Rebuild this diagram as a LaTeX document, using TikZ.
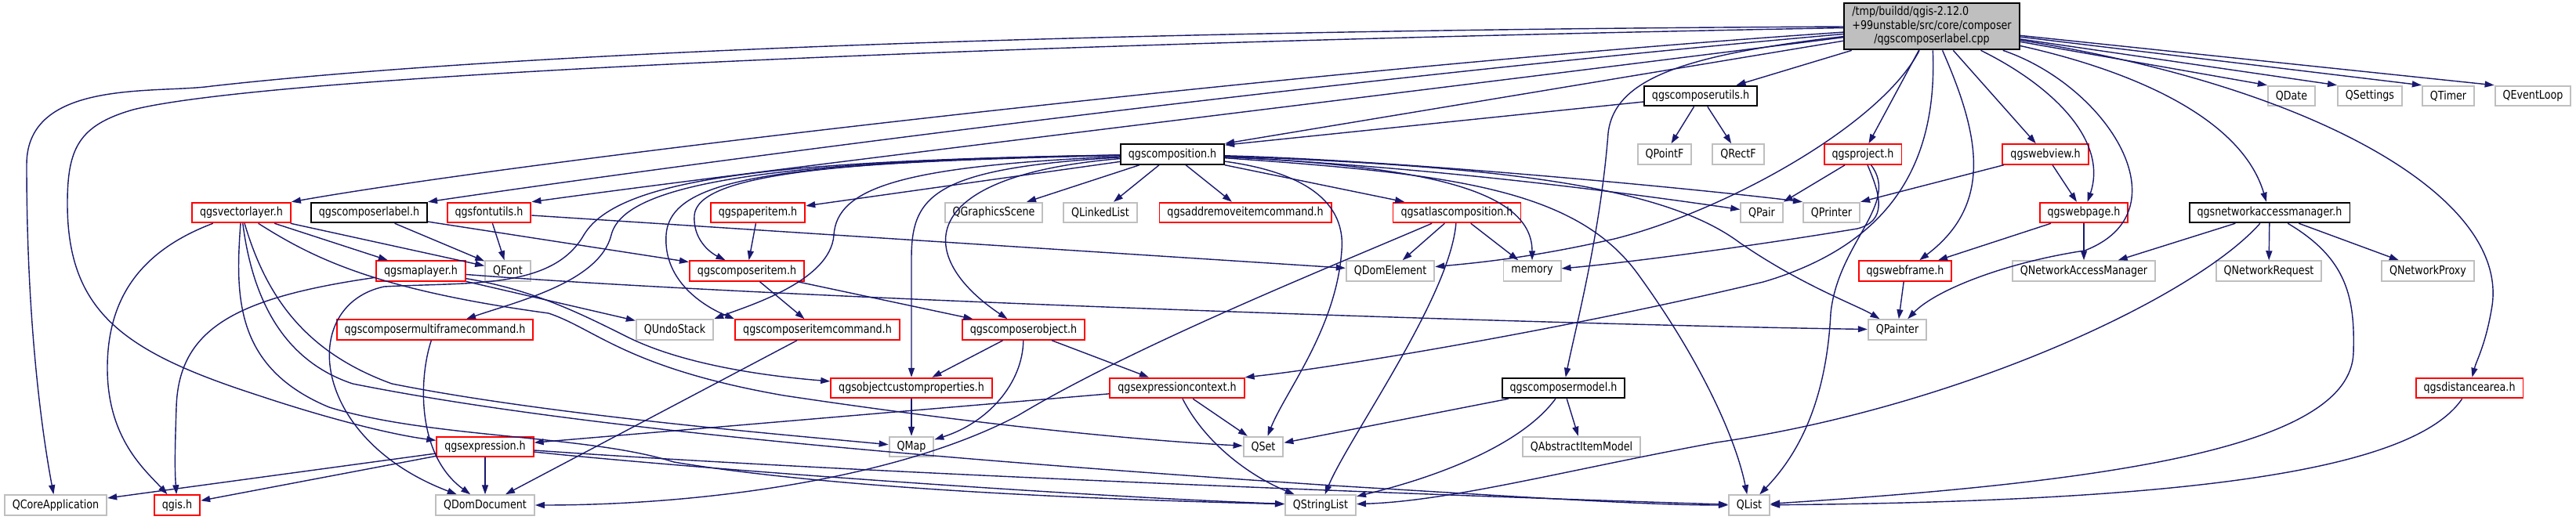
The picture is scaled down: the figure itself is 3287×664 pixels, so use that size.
\documentclass[tikz,border=0pt]{standalone}
\usepackage{fontspec}
\setmainfont{DejaVu Sans}[FakeStretch=0.84]
\usetikzlibrary{arrows.meta}
\definecolor{edgeblue}{RGB}{25,25,112}
\definecolor{boxgrey}{RGB}{191,191,191}

\begin{document}
\begin{tikzpicture}[x=0.01cm,y=-0.01cm,
  filebox/.style={rectangle,fill=white,line width=0.55pt,inner xsep=0.1cm,inner ysep=0pt,minimum height=0.255cm,font=\fontsize{4.3}{5}\selectfont},
  hdrbox/.style={filebox,draw=black},
  redbox/.style={filebox,draw=red},
  sysbox/.style={filebox,draw=boxgrey},
  dep/.style={draw=edgeblue,line width=0.4pt,-{Triangle[length=0.12cm,width=0.08cm]}}]
\useasboundingbox (0,0) rectangle (3287,664);

% source file
\node[hdrbox,fill=boxgrey,minimum height=0.55cm,inner ysep=1pt] (main) at (2465,33.5) {\begin{tabular}{@{}l@{}}/tmp/buildd/qgis-2.12.0\\+99unstable/src/core/composer\\\multicolumn{1}{@{}c@{}}{/qgscomposerlabel.cpp}\end{tabular}};

% row 1
\node[hdrbox] (cutils) at (2170,122.5) {qgscomposerutils.h};
\node[sysbox] (qdate) at (2924,122.5) {QDate};
\node[sysbox] (qsettings) at (3024,122.5) {QSettings};
\node[sysbox] (qtimer) at (3124,122.5) {QTimer};
\node[sysbox] (qeventloop) at (3232,122.5) {QEventLoop};
% row 2
\node[hdrbox] (composition) at (1496,197) {qgscomposition.h};
\node[sysbox] (qpointf) at (2124,197) {QPointF};
\node[sysbox] (qrectf) at (2218,197) {QRectF};
\node[redbox] (project) at (2377,197) {qgsproject.h};
\node[redbox] (webview) at (2610,197) {qgswebview.h};
% row 3
\node[redbox] (vlayer) at (308,271.5) {qgsvectorlayer.h};
\node[hdrbox] (clabel) at (471,271.5) {qgscomposerlabel.h};
\node[redbox] (fontutils) at (624,271.5) {qgsfontutils.h};
\node[redbox] (paperitem) at (967,271.5) {qgspaperitem.h};
\node[sysbox] (qgscene) at (1268,271.5) {QGraphicsScene};
\node[sysbox] (qlinked) at (1404,271.5) {QLinkedList};
\node[redbox] (addremove) at (1589,271.5) {qgsaddremoveitemcommand.h};
\node[redbox] (atlas) at (1859,271.5) {qgsatlascomposition.h};
\node[sysbox] (qpair) at (2248,271.5) {QPair};
\node[sysbox] (qprinter) at (2337,271.5) {QPrinter};
\node[redbox] (webpage) at (2659,271.5) {qgswebpage.h};
\node[hdrbox] (netmgr) at (2896,271.5) {qgsnetworkaccessmanager.h};
% row 4
\node[redbox] (maplayer) at (537,346) {qgsmaplayer.h};
\node[sysbox] (qfont) at (648,346) {QFont};
\node[redbox] (citem) at (953,346) {qgscomposeritem.h};
\node[sysbox] (qdomelem) at (1774,346) {QDomElement};
\node[sysbox] (memory) at (1955,346) {memory};
\node[redbox] (webframe) at (2431,346) {qgswebframe.h};
\node[sysbox] (qnam) at (2659,346) {QNetworkAccessManager};
\node[sysbox] (qnreq) at (2895,346) {QNetworkRequest};
\node[sysbox] (qnproxy) at (3098,346) {QNetworkProxy};
% row 5
\node[redbox] (mfcmd) at (555,421) {qgscomposermultiframecommand.h};
\node[sysbox] (qundo) at (861,421) {QUndoStack};
\node[redbox] (citemcmd) at (1043,421) {qgscomposeritemcommand.h};
\node[redbox] (cobject) at (1306,421) {qgscomposerobject.h};
\node[sysbox] (qpainter) at (2421,421) {QPainter};
% row 6
\node[redbox] (custprops) at (1163,495.5) {qgsobjectcustomproperties.h};
\node[redbox] (exprctx) at (1502,495.5) {qgsexpressioncontext.h};
\node[hdrbox] (cmodel) at (1995,495.5) {qgscomposermodel.h};
\node[redbox] (distarea) at (3151,495.5) {qgsdistancearea.h};
% row 7
\node[redbox] (expr) at (619,570.5) {qgsexpression.h};
\node[sysbox] (qmap) at (1163,570.5) {QMap};
\node[sysbox] (qset) at (1612,570.5) {QSet};
\node[sysbox] (qaim) at (2018,570.5) {QAbstractItemModel};
% row 8
\node[sysbox] (qcoreapp) at (71,645) {QCoreApplication};
\node[redbox] (qgis) at (226,645) {qgis.h};
\node[sysbox] (qdomdoc) at (619,645) {QDomDocument};
\node[sysbox] (qstrlist) at (1685,645) {QStringList};
\node[sysbox] (qlist) at (2232,645) {QList};

% includes of the source file
\draw[dep] (main) .. controls (1500,38) and (700,62) .. (270,110) .. controls (200,120) and (34,100) .. (34,210) .. controls (34,420) and (55,560) .. (qcoreapp);
\draw[dep] (main) .. controls (1300,55) and (350,95) .. (170,140) .. controls (100,160) and (86,190) .. (86,260) .. controls (86,400) and (160,450) .. (330,505) .. controls (420,535) and (500,555) .. (expr);
\draw[dep] (main) .. controls (1700,85) and (700,200) .. (vlayer.north east);
\draw[dep] (main) .. controls (1600,110) and (800,220) .. (clabel.north east);
\draw[dep] (main) .. controls (1700,130) and (950,220) .. (fontutils.north east);
\draw[dep] (main) -- (composition.north east);
\draw[dep] (main) -- (cutils);
\draw[dep] (main) .. controls (2150,70) and (2060,100) .. (2052,170) .. controls (2042,300) and (2010,420) .. (cmodel);
\draw[dep] (main) .. controls (2400,160) and (2200,270) .. (2060,305) .. controls (1950,330) and (1880,336) .. (qdomelem);
\draw[dep] (main) -- (project);
\draw[dep] (main) .. controls (2472,200) and (2420,310) .. (2250,360) .. controls (2000,420) and (1700,470) .. (exprctx.north east);
\draw[dep] (main) .. controls (2525,170) and (2545,260) .. (webframe);
\draw[dep] (main) -- (webview);
\draw[dep] (main) .. controls (2620,110) and (2690,180) .. (webpage);
\draw[dep] (main) .. controls (2690,110) and (2790,270) .. (2660,320) .. controls (2560,335) and (2470,370) .. (qpainter);
\draw[dep] (main) .. controls (2720,90) and (2860,150) .. (netmgr);
\draw[dep] (main) .. controls (2950,110) and (3200,250) .. (3180,390) .. controls (3172,440) and (3160,460) .. (distarea);
\draw[dep] (main) -- (qdate.north west);
\draw[dep] (main) -- (qsettings.north west);
\draw[dep] (main) -- (qtimer.north west);
\draw[dep] (main) -- (qeventloop.north west);

% qgscomposerutils.h, qgsproject.h, web and network headers
\draw[dep] (cutils) -- (composition.10);
\draw[dep] (cutils) -- (qpointf);
\draw[dep] (cutils) -- (qrectf);
\draw[dep] (project) -- (qpair.north east);
\draw[dep] (project) .. controls (2400,250) and (2408,282) .. (2370,292) .. controls (2200,320) and (2050,338) .. (memory);
\draw[dep] (project) .. controls (2425,260) and (2345,310) .. (2336,400) .. controls (2330,520) and (2290,585) .. (qlist);
\draw[dep] (webview) -- (qprinter.north east);
\draw[dep] (webview) -- (webpage);
\draw[dep] (webpage) -- (webframe);
\draw[dep] (webpage) -- (qnam);
\draw[dep] (webframe) -- (qpainter);
\draw[dep] (netmgr) -- (qnam);
\draw[dep] (netmgr) -- (qnreq);
\draw[dep] (netmgr) -- (qnproxy);
\draw[dep] (netmgr) .. controls (2800,380) and (2500,520) .. (2190,565) .. controls (2000,600) and (1850,640) .. (qstrlist);
\draw[dep] (netmgr) .. controls (2995,330) and (3005,380) .. (3003,450) .. controls (3000,570) and (2700,615) .. (qlist);
\draw[dep] (distarea) .. controls (3080,600) and (2800,640) .. (qlist);

% qgscomposition.h
\draw[dep] (composition) -- (qgscene);
\draw[dep] (composition) -- (qlinked);
\draw[dep] (composition) -- (addremove);
\draw[dep] (composition) -- (atlas);
\draw[dep] (composition) -- (paperitem);
\draw[dep] (composition) .. controls (1050,205) and (890,225) .. (886,275) .. controls (884,305) and (905,322) .. (citem);
\draw[dep] (composition) .. controls (1000,208) and (855,225) .. (850,300) .. controls (846,360) and (900,392) .. (citemcmd.north west);
\draw[dep] (composition) .. controls (1150,212) and (1068,240) .. (1064,300) .. controls (1060,360) and (950,392) .. (qundo.north east);
\draw[dep] (composition) .. controls (1160,225) and (1170,330) .. (cobject);
\draw[dep] (composition) .. controls (1190,215) and (1163,250) .. (1163,330) -- (custprops);
\draw[dep] (composition) .. controls (950,205) and (795,240) .. (780,300) .. controls (765,360) and (660,385) .. (mfcmd);
\draw[dep] (composition) .. controls (1000,205) and (790,225) .. (745,300) .. controls (705,370) and (600,360) .. (490,366) .. controls (380,390) and (395,560) .. (qdomdoc);
\draw[dep] (composition) .. controls (1800,212) and (1955,238) .. (memory);
\draw[dep] (composition) .. controls (1850,222) and (2010,240) .. (2090,350) .. controls (2170,460) and (2215,560) .. (qlist);
\draw[dep] (composition) .. controls (1900,212) and (2120,235) .. (2220,310) .. controls (2300,365) and (2370,390) .. (qpainter);
\draw[dep] (composition) .. controls (1850,215) and (2100,250) .. (qpair);
\draw[dep] (composition) .. controls (1800,205) and (2200,245) .. (qprinter.north west);
\draw[dep] (composition) .. controls (1650,218) and (1718,250) .. (1712,320) .. controls (1705,420) and (1640,500) .. (qset);

% qgsvectorlayer.h, qgscomposerlabel.h, qgsfontutils.h
\draw[dep] (vlayer) -- (maplayer);
\draw[dep] (vlayer) -- (qfont);
\draw[dep] (vlayer) .. controls (180,320) and (137,380) .. (137,470) .. controls (137,560) and (185,600) .. (qgis);
\draw[dep] (vlayer) .. controls (300,380) and (300,470) .. (420,520) .. controls (550,560) and (750,555) .. (860,590) .. controls (1100,630) and (1500,640) .. (qstrlist);
\draw[dep] (vlayer) .. controls (322,380) and (360,460) .. (450,490) .. controls (700,540) and (1100,580) .. (1700,620) .. controls (1950,635) and (2100,645) .. (qlist);
\draw[dep] (vlayer) .. controls (340,380) and (390,450) .. (500,490) .. controls (700,530) and (1000,555) .. (qmap);
\draw[dep] (vlayer) .. controls (400,330) and (480,370) .. (700,400) .. controls (760,420) and (800,470) .. (1000,505) .. controls (1300,550) and (1500,565) .. (qset);
\draw[dep] (clabel) -- (qfont);
\draw[dep] (clabel) -- (citem);
\draw[dep] (fontutils) -- (qfont);
\draw[dep] (fontutils) -- (qdomelem);

% items, map layer and commands
\draw[dep] (paperitem) -- (citem);
\draw[dep] (maplayer) -- (qundo);
\draw[dep] (maplayer) .. controls (1000,382) and (2000,415) .. (qpainter);
\draw[dep] (maplayer) .. controls (300,380) and (228,420) .. (225,520) .. controls (223,580) and (223,600) .. (qgis);
\draw[dep] (maplayer) .. controls (680,370) and (740,400) .. (800,430) .. controls (880,470) and (1000,482) .. (custprops);
\draw[dep] (citem) -- (citemcmd);
\draw[dep] (citem) -- (cobject);
\draw[dep] (mfcmd) .. controls (535,480) and (530,580) .. (qdomdoc);
\draw[dep] (citemcmd) -- (qdomdoc);
\draw[dep] (cobject) -- (custprops);
\draw[dep] (cobject) .. controls (1305,490) and (1260,540) .. (qmap);
\draw[dep] (cobject) -- (exprctx);
\draw[dep] (custprops) -- (qmap);

% expressions, atlas, model
\draw[dep] (exprctx) -- (qset);
\draw[dep] (exprctx) .. controls (1540,570) and (1600,610) .. (qstrlist);
\draw[dep] (exprctx) -- (expr);
\draw[dep] (cmodel) -- (qset);
\draw[dep] (cmodel) -- (qaim);
\draw[dep] (cmodel) .. controls (1940,570) and (1830,610) .. (qstrlist);
\draw[dep] (atlas) -- (qdomelem);
\draw[dep] (atlas) -- (memory);
\draw[dep] (atlas) .. controls (1700,340) and (1450,440) .. (1300,530) .. controls (1150,610) and (900,645) .. (qdomdoc);
\draw[dep] (atlas) .. controls (1850,380) and (1720,560) .. (qstrlist);
\draw[dep] (expr) -- (qcoreapp);
\draw[dep] (expr) -- (qgis);
\draw[dep] (expr) -- (qdomdoc);
\draw[dep] (expr) .. controls (900,600) and (1400,635) .. (qstrlist);
\draw[dep] (expr) .. controls (1100,605) and (1900,635) .. (qlist);
\end{tikzpicture}
\end{document}
